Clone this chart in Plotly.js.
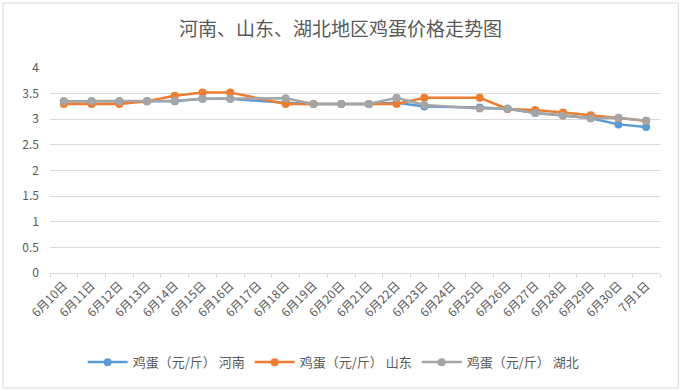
<!DOCTYPE html>
<html>
<head>
<meta charset="utf-8">
<script src="https://cdn.plot.ly/plotly-3.0.1.min.js"></script>
<style>html,body{margin:0;padding:0;background:#fff;}#chart{width:681px;height:391px;}</style>
</head>
<body>
<div id="chart"></div>
<script>
const dates = ["6月10日","6月11日","6月12日","6月13日","6月14日","6月15日","6月16日","6月17日","6月18日","6月19日","6月20日","6月21日","6月22日","6月23日","6月24日","6月25日","6月26日","6月27日","6月28日","6月29日","6月30日","7月1日"];
const henan    = [3.35,3.35,3.35,3.35,3.35,3.4,3.4,null,3.32,3.3,3.3,3.3,3.32,3.25,null,3.23,3.2,3.12,3.08,3.02,2.9,2.85];
const shandong = [3.3,3.3,3.3,3.35,3.46,3.52,3.52,null,3.3,3.3,3.3,3.3,3.3,3.42,null,3.42,3.2,3.18,3.13,3.08,3.02,2.97];
const hubei    = [3.35,3.35,3.35,3.35,3.36,3.4,3.4,null,3.41,3.3,3.3,3.3,3.42,3.28,null,3.21,3.21,3.12,3.07,3.02,3.03,2.97];
const seriesNames = ["鸡蛋（元/斤） 河南","鸡蛋（元/斤） 山东","鸡蛋（元/斤） 湖北"];
const colors = ["#5B9BD5","#ED7D31","#A5A5A5"];
const yTicks = [0,0.5,1,1.5,2,2.5,3,3.5,4];

const font = 'Noto Sans CJK SC, "Noto Sans", sans-serif';
const traces = [henan, shandong, hubei].map((vals, i) => ({
  type: 'scatter', mode: 'lines+markers', x: dates, y: vals, name: seriesNames[i],
  connectgaps: true,
  line: {color: colors[i], width: 2.5},
  marker: {color: colors[i], size: 8}
}));

const layout = {
  width: 681, height: 391,
  margin: {l: 50, r: 21, t: 68, b: 118},
  paper_bgcolor: '#fff', plot_bgcolor: '#fff',
  font: {family: font, color: '#595959', size: 12},
  title: {text: '河南、山东、湖北地区鸡蛋价格走势图', x: 0.5, xanchor: 'center', y: 0.925, yanchor: 'middle',
          font: {family: font, size: 19, color: '#595959'}},
  xaxis: {type: 'category', tickangle: -45, tickfont: {size: 12, color: '#595959'},
          showgrid: false, showline: true, linecolor: '#D9D9D9', linewidth: 1,
          ticks: 'outside', tickson: 'boundaries', ticklen: 4, tickcolor: '#D9D9D9',
          range: [-0.5, dates.length - 0.5], fixedrange: true},
  yaxis: {range: [0, 4], tickvals: yTicks, ticktext: yTicks.map(String), showgrid: true,
          gridcolor: '#D9D9D9', gridwidth: 1, zeroline: false, showline: false,
          tickfont: {size: 12, color: '#595959'}, ticks: '', ticklabelstandoff: 10},
  legend: {orientation: 'h', x: 0.465, xanchor: 'center', y: -0.435, yanchor: 'middle',
           font: {size: 13, color: '#595959'}, itemwidth: 40, tracegroupgap: 0},
  shapes: [{type: 'rect', xref: 'paper', yref: 'paper', x0: -0.077, x1: 1.03, y0: -0.561, y1: 1.317,
            line: {color: '#D9D9D9', width: 1}}],
  showlegend: true
};
Plotly.newPlot('chart', traces, layout, {staticPlot: true, displayModeBar: false});
</script>
</body>
</html>
